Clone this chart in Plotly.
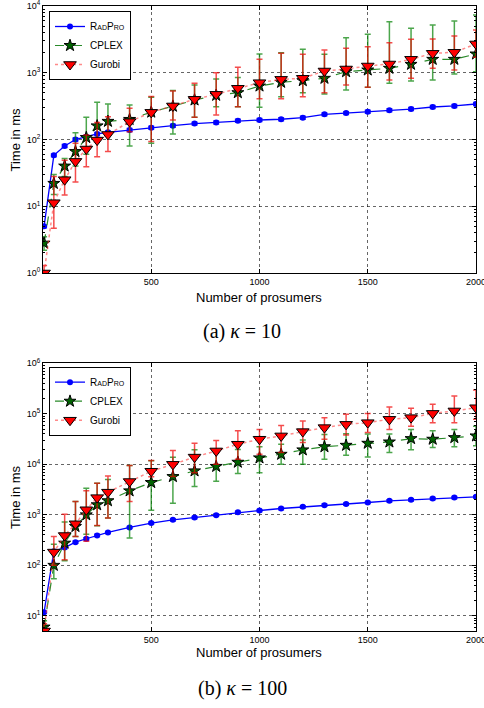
import plotly.graph_objects as go

# ---------------- data ----------------
prosumers = [5, 50, 100, 150, 200, 250, 300, 400, 500, 600, 700, 800, 900,
             1000, 1100, 1200, 1300, 1400, 1500, 1600, 1700, 1800, 1900, 2000]

# kappa = 10
radpro_10 = [5, 58, 80, 100, 110, 121, 128, 139, 150, 161, 173, 180, 191,
             196, 201, 212, 238, 249, 261, 274, 286, 307, 318, 340]
cplex_10 = [2.8, 22, 40, 66, 107, 160, 187, 200, 257, 315, 391, 459, 503,
            633, 719, 762, 826, 1038, 1100, 1166, 1338, 1590, 1590, 1910]
cplex_10_hi = [3.5, 30, 52, 126, 215, 361, 340, 330, 429, 540, 655, 806, 850,
               1910, 2000, 2245, 1900, 3350, 3767, 5820, 4627, 5190, 5960, 7330]
cplex_10_lo = [2.2, 15, 28, 40, 60, 98, 120, 80, 88, 121, 215, 310, 310,
               304, 438, 500, 481, 552, 605, 695, 752, 779, 958, 1038]
gurobi_10 = [1.0, 11.3, 25, 47, 72, 98, 119, 185, 255, 318, 400, 475, 585,
             710, 796, 826, 1062, 1138, 1262, 1352, 1590, 1955, 2025, 2700]
gurobi_10_hi = [1.3, 28, 49, 88, 117, 179, 220, 293, 440, 533, 695, 1000, 1205,
                1590, 1960, 1890, 2190, 2322, 2460, 2820, 3170, 3200, 3550, 4370]
gurobi_10_lo = [0.8, 4.7, 14.8, 23, 39, 55, 66, 131, 93, 196, 215, 233, 310,
                409, 409, 438, 503, 655, 605, 779, 826, 1166, 1100, 1700]

# kappa = 100
radpro_100 = [11.8, 190, 225, 288, 336, 391, 447, 562, 686, 797, 885, 986, 1120,
              1217, 1333, 1440, 1555, 1630, 1755, 1893, 1983, 2105, 2200, 2270]
cplex_100 = [6, 100, 275, 587, 1000, 1580, 1900, 2985, 4360, 5720, 7420, 9100, 11000,
             13400, 15800, 19300, 22300, 23800, 26100, 27700, 32300, 31400, 33800, 36500]
cplex_100_hi = [8, 263, 724, 1833, 3370, 4200, 5000, 9440, 11800, 13800, 19400, 17000, 19600,
                22200, 24900, 30200, 39000, 40500, 40000, 39700, 49100, 46000, 49100, 57000]
cplex_100_lo = [5, 54, 123, 372, 414, 606, 870, 346, 1226, 1700, 3630, 4600, 6560,
                6800, 9990, 9990, 12600, 15100, 13900, 17100, 19400, 21500, 22200, 23300]
gurobi_100 = [5, 183, 389, 664, 1260, 2190, 2810, 4560, 7300, 10000, 13900, 18400, 25000,
              31400, 36500, 44400, 53300, 61800, 66800, 77800, 84000, 102000, 114000, 132000]
gurobi_100_hi = [7, 372, 1030, 1833, 3000, 4240, 5900, 9440, 11900, 18700, 26100, 29500, 46000,
                 49100, 58500, 72000, 84000, 98000, 102000, 137000, 129000, 154000, 225000, 296000]
gurobi_100_lo = [4, 100, 129, 372, 300, 615, 870, 1830, 5700, 5720, 6800, 10000, 12600,
                 15800, 17100, 27000, 31400, 38000, 42500, 49100, 57000, 66800, 66800, 77800]

radpro_rel_err = 0.05

x_tickvals = [500, 1000, 1500, 2000]
x_ticktext = ["500", "1000", "1500", "2000"]
y_tickvals_10 = [1, 10, 100, 1000, 10000]
y_ticktext_10 = ["10<sup>0</sup>", "10<sup>1</sup>", "10<sup>2</sup>", "10<sup>3</sup>", "10<sup>4</sup>"]
y_tickvals_100 = [10, 100, 1000, 10000, 100000, 1000000]
y_ticktext_100 = ["10<sup>1</sup>", "10<sup>2</sup>", "10<sup>3</sup>", "10<sup>4</sup>",
                  "10<sup>5</sup>", "10<sup>6</sup>"]

names = ["R<span style='font-size:7px'>AD</span>P<span style='font-size:7px'>RO</span>",
         "CPLEX", "Gurobi"]
captions = ["(a) <i>κ</i> = 10", "(b) <i>κ</i> = 100"]
x_title = "Number of prosumers"
y_title = "Time in ms"

# ---------------- figure ----------------
W, H = 484, 708
ML, MR, MT, MB = 43, 8, 6, 77
PH = H - MT - MB


def py(px):
    return (H - MB - px) / PH


def pxx(px):
    return (px - ML) / (W - ML - MR)


fig = go.Figure()


def add_series(xa, ya, legend, rad, cp, cphi, cplo, gu, guhi, gulo):
    fig.add_trace(go.Scatter(
        x=prosumers, y=rad, name=names[0], xaxis=xa, yaxis=ya, legend=legend,
        mode="lines+markers",
        line=dict(color="#0000ff", width=1.3),
        marker=dict(symbol="circle", size=6, color="#0000ff"),
        error_y=dict(type="data", array=[v * radpro_rel_err for v in rad],
                     color="rgba(0,0,255,0.75)", thickness=1.5, width=3),
    ))
    fig.add_trace(go.Scatter(
        x=prosumers, y=cp, name=names[1], xaxis=xa, yaxis=ya, legend=legend,
        mode="lines+markers",
        line=dict(color="#2a8a2a", width=1.2, dash="dash"),
        marker=dict(symbol="star", size=9, color="#006400",
                    line=dict(color="black", width=1)),
        error_y=dict(type="data", symmetric=False,
                     array=[h - v for h, v in zip(cphi, cp)],
                     arrayminus=[v - l for v, l in zip(cp, cplo)],
                     color="rgba(0,128,0,0.7)", thickness=1.5, width=3),
    ))
    fig.add_trace(go.Scatter(
        x=prosumers, y=gu, name=names[2], xaxis=xa, yaxis=ya, legend=legend,
        mode="lines+markers",
        line=dict(color="rgba(255,60,60,0.6)", width=1.5, dash="dot"),
        marker=dict(symbol="triangle-down", size=11, color="#ff0000",
                    line=dict(color="black", width=1)),
        error_y=dict(type="data", symmetric=False,
                     array=[h - v for h, v in zip(guhi, gu)],
                     arrayminus=[v - l for v, l in zip(gu, gulo)],
                     color="rgba(240,0,0,0.7)", thickness=1.5, width=3),
    ))


add_series("x", "y", "legend", radpro_10, cplex_10, cplex_10_hi, cplex_10_lo,
           gurobi_10, gurobi_10_hi, gurobi_10_lo)
add_series("x2", "y2", "legend2", radpro_100, cplex_100, cplex_100_hi, cplex_100_lo,
           gurobi_100, gurobi_100_hi, gurobi_100_lo)

tickfont = dict(family="Liberation Sans, Arial, sans-serif", size=9, color="black")
grid_col = "rgba(0,0,0,0.6)"
common_x = dict(range=[0, 2000], tickvals=x_tickvals, ticktext=x_ticktext,
                ticks="inside", ticklen=4, tickcolor="black", automargin=False,
                ticklabeloverflow="allow",
                showline=True, linecolor="black", linewidth=1, mirror="ticks",
                showgrid=True, gridcolor=grid_col, griddash="dot", gridwidth=1,
                zeroline=False, tickfont=tickfont)
common_y = dict(type="log", ticks="inside", ticklen=4, tickcolor="black", automargin=False,
                ticklabeloverflow="allow",
                showline=True, linecolor="black", linewidth=1, mirror="ticks",
                showgrid=True, gridcolor=grid_col, griddash="dot", gridwidth=1,
                zeroline=False, tickfont=tickfont,
                minor=dict(ticks="inside", ticklen=2, tickcolor="black", showgrid=False,
                           dtick="D1"))

top_dom = [py(273), 1.0]
bot_dom = [0.0, py(363.3)]

legend_font = dict(family="Liberation Sans, Arial, sans-serif", size=10, color="black")
fig.update_layout(
    width=W, height=H,
    margin=dict(l=ML, r=MR, t=MT, b=MB),
    paper_bgcolor="white", plot_bgcolor="white",
    xaxis=dict(common_x, domain=[0, 1], anchor="y"),
    yaxis=dict(common_y, domain=top_dom, anchor="x", range=[0, 4],
               tickvals=y_tickvals_10, ticktext=y_ticktext_10),
    xaxis2=dict(common_x, domain=[0, 1], anchor="y2"),
    yaxis2=dict(common_y, domain=bot_dom, anchor="x2", range=[0.7, 6],
                tickvals=y_tickvals_100, ticktext=y_ticktext_100),
    legend=dict(x=pxx(49), y=py(11), xanchor="left", yanchor="top",
                bgcolor="white", bordercolor="black", borderwidth=1,
                font=legend_font, tracegroupgap=0, itemwidth=30),
    legend2=dict(x=pxx(49), y=py(366.7), xanchor="left", yanchor="top",
                 bgcolor="white", bordercolor="black", borderwidth=1,
                 font=legend_font, tracegroupgap=0, itemwidth=30),
    showlegend=True,
)

title_font = dict(family="Liberation Sans, Arial, sans-serif", size=13, color="black")
cap_font = dict(family="Liberation Serif, Times New Roman, serif", size=20, color="black")
ann = [
    dict(text=y_title, x=pxx(15), y=py(139.5), textangle=-90, font=title_font),
    dict(text=y_title, x=pxx(15), y=py(497), textangle=-90, font=title_font),
    dict(text=x_title, x=pxx(259), y=py(297), font=title_font),
    dict(text=x_title, x=pxx(259), y=py(652), font=title_font),
    dict(text=captions[0], x=pxx(242), y=py(331), font=cap_font),
    dict(text=captions[1], x=pxx(242), y=py(688), font=cap_font),
]
for a in ann:
    fig.add_annotation(xref="paper", yref="paper", showarrow=False,
                       xanchor="center", yanchor="middle", **a)

fig.write_html("out.html", config={"displayModeBar": False},
               post_script="document.body.style.margin='0';document.body.style.overflow='hidden';")
